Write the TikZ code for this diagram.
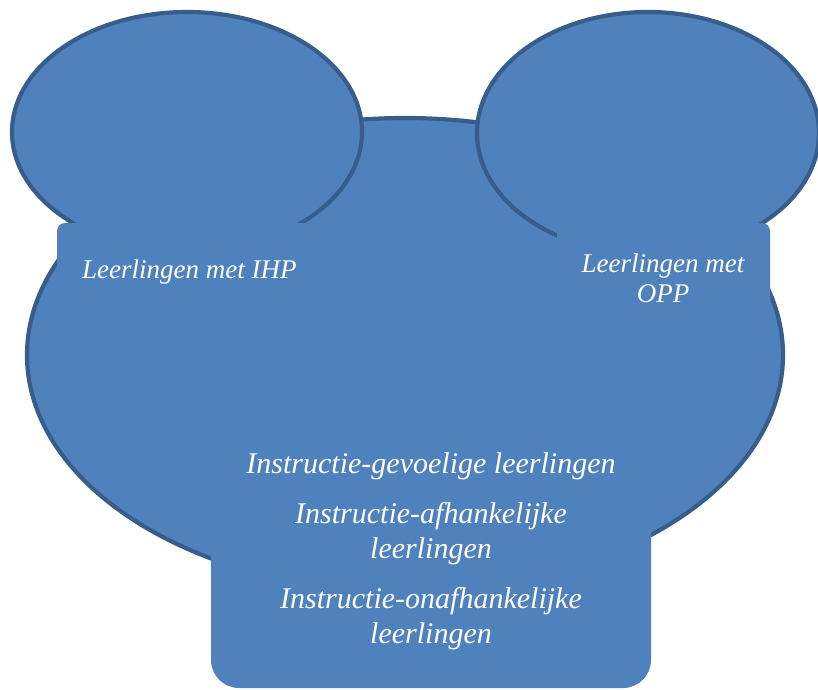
\documentclass[tikz,border=0pt]{standalone}
\usepackage{fontspec}
\setmainfont{Liberation Serif}
\usetikzlibrary{shapes.geometric}
\definecolor{fillblue}{HTML}{4F81BD}
\definecolor{lineblue}{HTML}{385D8A}
\begin{document}
\begin{tikzpicture}[x=1pt,y=-1pt,
  blob/.style={ellipse, fill=fillblue, draw=lineblue, line width=4.2pt, inner sep=0pt, outer sep=0pt},
  panel/.style={rectangle, fill=fillblue, inner sep=0pt, outer sep=0pt},
  lbl/.style={text=white, inner sep=0pt, align=center},
  small/.style={font=\itshape\fontsize{27}{30}\selectfont},
  big/.style={font=\itshape\fontsize{30}{35}\selectfont}]
\useasboundingbox (0,0) rectangle (818,689);
% shapes
\node[blob, minimum width=756pt, minimum height=474pt] (body) at (405,355) {};
\node[blob, minimum width=350pt, minimum height=240pt] (earL) at (187,132) {};
\node[blob, minimum width=342pt, minimum height=242pt] (earR) at (648,133) {};
\node[panel, rounded corners=8pt, minimum width=273pt, minimum height=97pt] (boxL) at (193.5,271.5) {};
\node[panel, rounded corners=8pt, minimum width=213pt, minimum height=97pt] (boxR) at (663.5,271.5) {};
\node[panel, rounded corners=28pt, minimum width=440pt, minimum height=253pt] (boxB) at (431,561.5) {};
% texts
\node[lbl, small, anchor=base west] (tL) at (82,278) {Leerlingen met IHP};
\node[lbl, small, anchor=center] (tR) at (663,278) {Leerlingen met\\OPP};
\node[lbl, big, anchor=base] (t1) at (431,473) {Instructie-gevoelige leerlingen};
\node[lbl, big, anchor=center] (t2) at (431,533.5) {Instructie-afhankelijke\\leerlingen};
\node[lbl, big, anchor=center] (t3) at (431,618.5) {Instructie-onafhankelijke\\leerlingen};
\end{tikzpicture}
\end{document}
